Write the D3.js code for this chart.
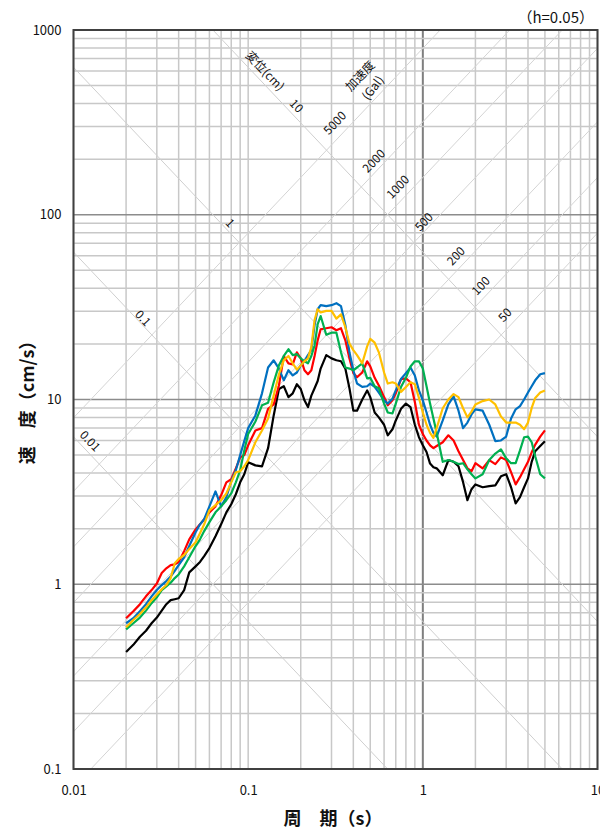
<!DOCTYPE html>
<html>
<head>
<meta charset="utf-8">
<script src="https://cdn.jsdelivr.net/npm/d3@7"></script>
<style>
  body { margin: 0; background: #fff; }
  text { font-family: "Noto Sans CJK JP", "Noto Sans", sans-serif; fill: #111; }
</style>
</head>
<body>
<div id="chart"></div>
<script>

// periods (s) shared by every spectrum
const periods = [0.02,0.022,0.024,0.026,0.028,0.03,0.032,0.034,0.036,0.038,0.04,
  0.043,0.046,0.05,0.053,0.056,0.06,0.065,0.07,0.075,0.08,0.085,0.09,0.095,0.1,
  0.11,0.12,0.13,0.14,0.15,0.16,0.17,0.18,0.19,0.2,0.21,0.22,0.23,0.24,0.25,0.26,
  0.28,0.3,0.32,0.34,0.36,0.38,0.4,0.42,0.45,0.48,0.5,
  0.53,0.56,0.6,0.63,0.67,0.7,0.75,0.8,0.85,0.9,0.95,1.0,
  1.05,1.1,1.15,1.2,1.3,1.4,1.5,1.6,1.7,1.8,1.9,2.0,
  2.2,2.4,2.6,2.8,3.0,3.2,3.4,3.6,3.8,4.0,4.2,4.4,4.7,5.0]

// velocity response (cm/s)
const velBlack = [0.43,0.47,0.52,0.56,0.615,0.66,0.72,0.78,0.82,0.83,0.84,
  0.93,1.16,1.25,1.32,1.42,1.57,1.82,2.11,2.45,2.71,3.07,3.56,3.94,4.57,
  4.4,4.35,5.45,8.2,11.4,11.8,10.3,10.8,12.1,11.4,9.9,9.1,10.5,11.5,12.6,14.7,
  17.4,16.7,16.3,16.1,14.7,11.5,8.7,8.7,10,11.2,10.3,
  8.5,8.0,7.3,6.4,6.9,7.7,8.9,9.5,9.1,7.3,6.25,5.65,
  5.2,4.5,4.3,4.24,3.89,4.7,4.6,4.35,3.57,2.85,3.27,3.47,
  3.35,3.4,3.43,3.84,3.94,3.35,2.74,2.96,3.35,3.74,4.6,5.25,5.6,5.95]

const velRed = [0.655,0.715,0.78,0.86,0.93,1.01,1.15,1.22,1.27,1.28,1.32,
  1.51,1.75,1.98,2.11,2.25,2.45,2.64,3.03,3.56,3.7,4.24,4.86,5.0,5.65,
  6.8,7.0,8.9,9.4,11.9,17.2,15.7,15.5,18.0,16.7,14.4,13.7,14.4,17.2,20.9,24.0,
  24.3,24.6,23.7,24.3,20.9,16.7,13.9,13.2,14.0,16.1,15.1,
  13.1,11.9,10.3,9.3,9.9,10.8,12.9,13.0,12.4,9.7,7.3,6.5,
  6.0,5.65,5.45,5.6,5.87,6.4,6.0,5.25,4.7,4.24,4.09,4.52,
  4.24,4.7,4.47,4.86,4.7,4.04,3.47,3.8,4.19,4.6,5.18,5.7,6.3,6.8]

const velBlue = [0.615,0.655,0.715,0.78,0.86,0.93,0.99,1.04,1.10,1.18,1.27,
  1.40,1.61,1.91,2.11,2.25,2.64,3.18,2.64,2.96,3.61,4.14,5.0,5.95,7.0,
  8.2,10.8,14.9,16.3,14.7,12.7,14.4,13.5,14.0,15.3,16.1,17.4,18.5,25.3,30.8,32.4,
  32.0,32.4,33.2,32.0,25.3,18.0,14.4,12.2,11.7,11.8,12.2,
  11.7,10.9,9.9,9.5,10.1,11.2,12.9,13.9,14.9,13.5,11.2,9.9,
  8.5,7.3,6.6,6.3,7.7,9.4,10.4,8.7,7.0,7.5,8.3,8.85,
  8.7,7.3,5.95,6.0,6.3,7.9,8.85,9.2,10.0,10.9,11.8,12.7,13.7,13.9]

const velGreen = [0.57,0.615,0.66,0.72,0.79,0.85,0.93,0.975,1.02,1.08,1.13,
  1.25,1.40,1.61,1.75,1.94,2.17,2.45,2.64,2.85,3.10,3.56,4.14,5.3,6.5,
  7.6,9.3,9.6,12.4,15.3,17.2,18.7,17.4,17.6,16.7,16.1,15.7,17.2,19.6,25.6,28.3,
  22.4,23.0,23.0,18.0,14.9,14.7,14.4,14.9,15.7,13.0,13.1,
  11.8,11.5,9.5,8.5,8.4,9.5,11.7,13.1,15.1,16.1,16.1,14.7,
  11.8,9.5,7.9,6.6,4.6,4.7,4.6,4.47,4.52,4.19,3.94,3.74,
  3.94,4.7,5.1,5.37,4.8,4.52,4.52,5.3,6.25,6.3,5.87,4.93,3.94,3.74]

const velYellow = [0.585,0.64,0.69,0.75,0.82,0.88,0.94,0.99,1.08,1.30,1.37,
  1.44,1.55,1.69,1.89,2.11,2.51,2.68,2.85,3.10,3.56,4.04,4.09,4.35,4.7,
  5.87,6.8,7.9,10.5,13.7,16.3,17.2,15.7,14.5,15.3,16.1,16.7,19.2,26.9,30.8,29.6,
  30.2,30.2,27.4,28.9,24.6,20.1,18.5,17.4,15.7,19.4,21.3,
  20.3,18.0,14.0,12.2,12.4,12.2,11.0,11.7,12.4,12.1,10.2,8.5,
  7.3,6.6,6.2,7.0,8.97,10.0,10.7,10.3,8.97,8.0,8.6,9.4,
  9.8,10.0,9.4,8.1,7.5,7.5,7.5,7.3,6.9,7.5,9.0,10.2,10.9,11.2]

const seriesNames = ['black', 'red', 'blue', 'green', 'yellow']
const seriesValues = [velBlack, velRed, velBlue, velGreen, velYellow]
const seriesColors = ['#000000', '#ff0000', '#0070c0', '#00b050', '#ffc000']

const xTickValues = [0.01, 0.1, 1, 10]
const yTickValues = [0.1, 1, 10, 100, 1000]

// tripartite guide lines
const dispValues = [0.01, 0.1, 1, 10]           // displacement (cm)
const accValues = [50, 100, 200, 500, 1000, 2000, 5000]  // acceleration (Gal)

// where the guide labels sit, in (period, velocity)
const dispLabelText = ['0.01', '0.1', '1', '10']
const dispLabelT = [0.01243, 0.025, 0.0787, 0.189]
const dispLabelV = [5.96, 27.6, 90.2, 388]
const accLabelText = ['50', '100', '200', '500', '1000', '2000', '5000']
const accLabelT = [2.95, 2.15, 1.547, 1.015, 0.72, 0.525, 0.314]
const accLabelV = [28.7, 41.2, 59.8, 91.4, 141.3, 195.4, 313.7]

const W = 600, H = 831
const plotL = 73.5, plotR = 597.5, plotT = 30, plotB = 769

const svg = d3.select('#chart').append('svg')
    .attr('width', W)
    .attr('height', H)

const x = d3.scaleLog().domain([0.01, 10]).range([plotL, plotR])
const y = d3.scaleLog().domain([0.1, 1000]).range([plotB, plotT])

svg.append('clipPath').attr('id', 'plotClip')
    .append('rect')
    .attr('x', plotL).attr('y', plotT)
    .attr('width', plotR - plotL).attr('height', plotB - plotT)

// minor grid
const gridG = svg.append('g')
gridG.selectAll('line.vx')
    .data(x.ticks())
    .enter().append('line')
    .attr('x1', d => x(d)).attr('x2', d => x(d))
    .attr('y1', plotT).attr('y2', plotB)
    .attr('stroke', d => d === 1 ? '#7f7f7f' : '#c8c8c8')
    .attr('stroke-width', d => d === 1 ? 2 : 1.5)

gridG.selectAll('line.hy')
    .data(y.ticks())
    .enter().append('line')
    .attr('x1', plotL).attr('x2', plotR)
    .attr('y1', d => y(d)).attr('y2', d => y(d))
    .attr('stroke', d => (d === 1 || d === 10 || d === 100) ? '#8c8c8c' : '#c8c8c8')
    .attr('stroke-width', 1.5)

// diagonal guides
const twoPi = 2 * Math.PI
const diagG = svg.append('g').attr('clip-path', 'url(#plotClip)')
diagG.selectAll('line.disp')
    .data(dispValues)
    .enter().append('line')
    .attr('x1', x(0.01)).attr('y1', d => y(twoPi * d / 0.01))
    .attr('x2', x(10)).attr('y2', d => y(twoPi * d / 10))
    .attr('stroke', '#cfcfcf').attr('stroke-width', 1)

diagG.selectAll('line.acc')
    .data(accValues)
    .enter().append('line')
    .attr('x1', x(0.01)).attr('y1', d => y(d * 0.01 / twoPi))
    .attr('x2', x(10)).attr('y2', d => y(d * 10 / twoPi))
    .attr('stroke', '#d4d4d4').attr('stroke-width', 1)

// angle of the guide lines on screen
const slope = Math.atan2(y(1) - y(10), x(1) - x(0.1)) * 180 / Math.PI

const labG = svg.append('g').style('font-size', '12px')
dispLabelText.forEach((t, i) => {
    labG.append('text')
        .attr('transform', `translate(${x(dispLabelT[i])},${y(dispLabelV[i])}) rotate(${slope})`)
        .attr('text-anchor', 'middle')
        .attr('dy', '0.35em')
        .text(t)
})
accLabelText.forEach((t, i) => {
    labG.append('text')
        .attr('transform', `translate(${x(accLabelT[i])},${y(accLabelV[i])}) rotate(${-slope})`)
        .attr('text-anchor', 'middle')
        .attr('dy', '0.35em')
        .text(t)
})

labG.append('text')
    .attr('transform', `translate(${x(0.125)},${y(600)}) rotate(${slope})`)
    .attr('text-anchor', 'middle').attr('dy', '0.35em')
    .text('変位(cm)')
labG.append('text')
    .attr('transform', `translate(${x(0.437)},${y(564)}) rotate(${-slope})`)
    .attr('text-anchor', 'middle').attr('dy', '0.35em')
    .text('加速度')
labG.append('text')
    .attr('transform', `translate(${x(0.518)},${y(486)}) rotate(-52)`)
    .attr('text-anchor', 'middle').attr('dy', '0.35em')
    .text('(Gal)')

// spectra
const line = d3.line()
    .x((d, i) => x(periods[i]))
    .y(d => y(d))

svg.append('g').attr('clip-path', 'url(#plotClip)')
    .selectAll('path')
    .data(seriesValues)
    .enter().append('path')
    .attr('class', (d, i) => 'spec ' + seriesNames[i])
    .attr('d', line)
    .attr('fill', 'none')
    .attr('stroke', (d, i) => seriesColors[i])
    .attr('stroke-width', 2.2)
    .attr('stroke-linejoin', 'round')

// frame
svg.append('rect')
    .attr('x', plotL).attr('y', plotT)
    .attr('width', plotR - plotL).attr('height', plotB - plotT)
    .attr('fill', 'none')
    .attr('stroke', '#404040')
    .attr('stroke-width', 2)

// axes (labels only)
const fmt = d => String(d)
const xAxis = d3.axisBottom(x).tickValues(xTickValues).tickFormat(fmt).tickSize(0).tickPadding(17)
const yAxis = d3.axisLeft(y).tickValues(yTickValues).tickFormat(fmt).tickSize(0).tickPadding(12)

const gx = svg.append('g').attr('transform', `translate(0,${plotB})`).call(xAxis)
const gy = svg.append('g').attr('transform', `translate(${plotL},0)`).call(yAxis)
;[gx, gy].forEach(g => {
    g.select('.domain').remove()
    g.selectAll('text')
        .style('font-size', '13px')
        .style('font-family', '"Noto Sans CJK JP", sans-serif')
        .attr('fill', '#111')
})

// titles
svg.append('text')
    .attr('x', 333).attr('y', 825)
    .attr('text-anchor', 'middle')
    .style('font-size', '18px').style('font-weight', 'bold')
    .text('周　期（s）')

svg.append('text')
    .attr('transform', 'translate(34,398) rotate(-90)')
    .attr('text-anchor', 'middle')
    .style('font-size', '18px').style('font-weight', 'bold')
    .text('速　度（cm/s）')

svg.append('text')
    .attr('x', 594).attr('y', 23)
    .attr('text-anchor', 'end')
    .style('font-size', '15px')
    .text('（h=0.05）')

</script>
</body>
</html>
